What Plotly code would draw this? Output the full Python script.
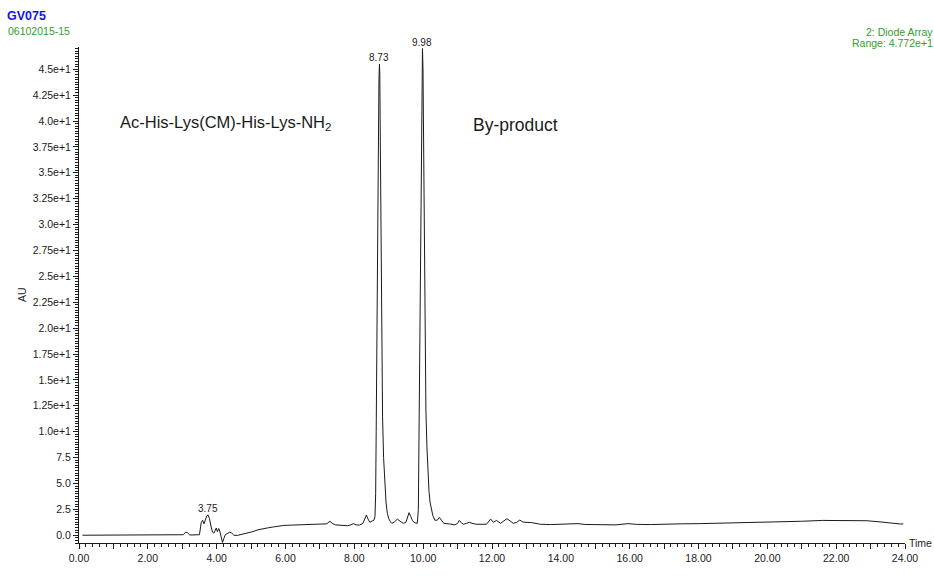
import plotly.graph_objects as go

# ---------------- data ----------------
time_min = [
    0.10, 1.00, 2.00, 2.90, 3.03, 3.10, 3.15, 3.22, 3.40, 3.50,
    3.55, 3.59, 3.63, 3.67, 3.72, 3.75, 3.79, 3.84, 3.88, 3.92,
    3.96, 3.99, 4.02, 4.06, 4.09, 4.13, 4.17, 4.21, 4.25, 4.30,
    4.38, 4.44, 4.50, 4.60, 4.75, 4.90, 5.05, 5.20, 5.35, 5.50,
    5.65, 5.80, 5.95, 6.20, 6.50, 6.80, 7.10, 7.20, 7.29, 7.36,
    7.45, 7.60, 7.80, 7.90, 7.97, 8.05, 8.15, 8.25, 8.31, 8.35,
    8.40, 8.45, 8.52, 8.57, 8.60, 8.62, 8.635, 8.65, 8.67, 8.695,
    8.715, 8.73, 8.74, 8.755, 8.77, 8.785, 8.80, 8.82, 8.85, 8.88,
    8.92, 8.96, 9.00, 9.05, 9.09, 9.17, 9.25, 9.33, 9.42, 9.50,
    9.55, 9.59, 9.64, 9.69, 9.76, 9.83, 9.86, 9.875, 9.89, 9.91,
    9.935, 9.955, 9.98, 9.995, 10.01, 10.025, 10.045, 10.065, 10.08, 10.11,
    10.14, 10.17, 10.20, 10.24, 10.28, 10.34, 10.41, 10.47, 10.53, 10.60,
    10.77, 10.92, 11.00, 11.05, 11.11, 11.17, 11.26, 11.34, 11.45, 11.56,
    11.84, 11.91, 11.96, 12.04, 12.13, 12.25, 12.35, 12.43, 12.52, 12.62,
    12.72, 12.81, 12.88, 12.96, 13.15, 13.40, 13.70, 14.00, 14.30, 14.50,
    14.70, 15.00, 15.30, 15.60, 15.95, 16.20, 16.60, 17.07, 17.50, 18.04,
    18.50, 19.00, 19.50, 20.00, 20.45, 21.00, 21.60, 22.00, 22.50, 22.90,
    23.30, 23.60, 23.85, 23.95,
]
absorbance_au = [
    0.00, 0.00, 0.00, 0.00, 0.05, 0.30, 0.25, 0.02, 0.00, 0.05,
    1.20, 1.45, 1.10, 1.50, 1.90, 1.95, 1.60, 0.80, 0.30, 0.20,
    0.55, 0.70, 0.35, 0.65, 0.40, -0.30, -0.70, -0.30, 0.05, 0.15,
    0.30, 0.20, 0.00, -0.02, 0.08, 0.20, 0.35, 0.52, 0.65, 0.72,
    0.80, 0.90, 0.95, 0.98, 1.00, 1.02, 1.05, 1.10, 1.35, 1.15,
    1.00, 0.95, 0.92, 1.00, 1.12, 1.00, 0.98, 1.15, 1.70, 1.95,
    1.55, 1.25, 1.38, 1.45, 1.80, 4.00, 10.0, 18.0, 28.0, 38.0,
    44.0, 45.5, 44.5, 38.0, 30.0, 22.0, 15.0, 11.5, 7.50, 5.00,
    3.20, 2.10, 1.60, 1.30, 1.15, 1.30, 1.56, 1.35, 1.15, 1.25,
    1.70, 2.18, 1.80, 1.40, 1.20, 1.15, 2.50, 8.00, 15.0, 26.0,
    37.0, 44.0, 47.0, 45.0, 38.0, 30.0, 21.0, 15.0, 12.0, 8.50,
    6.00, 4.20, 3.20, 2.40, 1.90, 1.45, 1.45, 1.72, 1.40, 1.15,
    1.09, 1.00, 1.15, 1.43, 1.20, 1.06, 1.15, 1.25, 1.12, 1.06,
    1.06, 1.30, 1.56, 1.25, 1.43, 1.15, 1.35, 1.59, 1.40, 1.15,
    1.25, 1.47, 1.30, 1.25, 1.22, 1.06, 1.03, 1.05, 1.05, 1.12,
    1.04, 1.02, 1.00, 1.00, 1.12, 1.05, 1.03, 1.09, 1.10, 1.12,
    1.15, 1.18, 1.22, 1.25, 1.28, 1.35, 1.43, 1.42, 1.42, 1.40,
    1.28, 1.15, 1.09, 1.09,
]

peak_labels = ["3.75", "8.73", "9.98"]
peak_times = [3.75, 8.73, 9.98]

y_tick_values = [0, 2.5, 5, 7.5, 10, 12.5, 15, 17.5, 20, 22.5, 25, 27.5,
                 30, 32.5, 35, 37.5, 40, 42.5, 45]
y_tick_labels = ["0.0", "2.5", "5.0", "7.5", "1.0e+1", "1.25e+1", "1.5e+1",
                 "1.75e+1", "2.0e+1", "2.25e+1", "2.5e+1", "2.75e+1", "3.0e+1",
                 "3.25e+1", "3.5e+1", "3.75e+1", "4.0e+1", "4.25e+1", "4.5e+1"]

# ---------------- layout geometry ----------------
W, H = 934, 576
ML, MR, MT, MB = 79, 29, 47, 17
PW, PH = W - ML - MR, H - MT - MB

def px(xp):
    return (xp - ML) / PW

def py(yp):
    return (H - MB - yp) / PH

FONT = "Liberation Sans, Arial, Helvetica, sans-serif"
GREEN = "#2f9e2f"
INK = "#1a1a1a"

fig = go.Figure()
fig.add_trace(go.Scatter(
    x=time_min, y=absorbance_au, mode="lines",
    line=dict(color=INK, width=1), hoverinfo="skip", showlegend=False,
))

annotations = []
# peak retention-time labels, anchored on the trace apex
for lab, t in zip(peak_labels, peak_times):
    near = [(vv, tt) for tt, vv in zip(time_min, absorbance_au) if abs(tt - t) <= 0.06]
    apex_v, apex_t = max(near)
    annotations.append(dict(x=apex_t, y=apex_v, xref="x", yref="y", text=lab,
                            showarrow=False, xanchor="center", yanchor="bottom",
                            yshift=-1, font=dict(family=FONT, size=10, color=INK)))

def txt(text, x, y, xanchor, size, color=INK, bold=False, angle=0):
    if bold:
        text = f"<b>{text}</b>"
    return dict(x=px(x), y=py(y), xref="paper", yref="paper", text=text,
                showarrow=False, xanchor=xanchor, yanchor="middle",
                textangle=angle, font=dict(family=FONT, size=size, color=color))

annotations += [
    txt("GV075", 5, 15, "left", 12.5, "#1414e6", bold=True),
    txt("06102015-15", 6, 30, "left", 10.5, GREEN),
    txt("2: Diode Array", 935, 31, "right", 10.5, GREEN),
    txt("Range: 4.772e+1", 935, 43, "right", 10.5, GREEN),
    txt("AU", 22, 303, "center", 10.5, angle=-90),
    txt("Time", 907, 559, "left", 10.5),
    txt("Ac-His-Lys(CM)-His-Lys-NH<sub>2</sub>", 118, 125, "left", 16.5),
    txt("By-product", 471, 128, "left", 17.5),
]

fig.update_layout(
    width=W, height=H,
    margin=dict(l=ML, r=MR, t=MT, b=MB, pad=0),
    paper_bgcolor="white", plot_bgcolor="white",
    font=dict(family=FONT, size=10, color=INK),
    annotations=annotations,
    xaxis=dict(
        range=[0, 24], showgrid=False, zeroline=False,
        showline=True, linecolor=INK, linewidth=1,
        ticks="outside", ticklen=5, tickwidth=1, tickcolor=INK,
        tickmode="linear", tick0=0, dtick=1, ticklabelstep=2, tickformat=".2f",
        tickfont=dict(family=FONT, size=10.5, color=INK),
        minor=dict(tickmode="linear", tick0=0, dtick=0.2, ticks="outside",
                   ticklen=3, tickwidth=1, tickcolor=INK),
    ),
    yaxis=dict(
        range=[-0.75, 47.15], showgrid=False, zeroline=False,
        showline=True, linecolor=INK, linewidth=1,
        ticks="outside", ticklen=5, tickwidth=1, tickcolor=INK,
        tickmode="array", tickvals=y_tick_values, ticktext=y_tick_labels,
        tickfont=dict(family=FONT, size=10.5, color=INK),
        minor=dict(tickmode="linear", tick0=0, dtick=0.25, ticks="outside",
                   ticklen=3, tickwidth=1, tickcolor=INK),
    ),
)

fig.write_html("out.html")
